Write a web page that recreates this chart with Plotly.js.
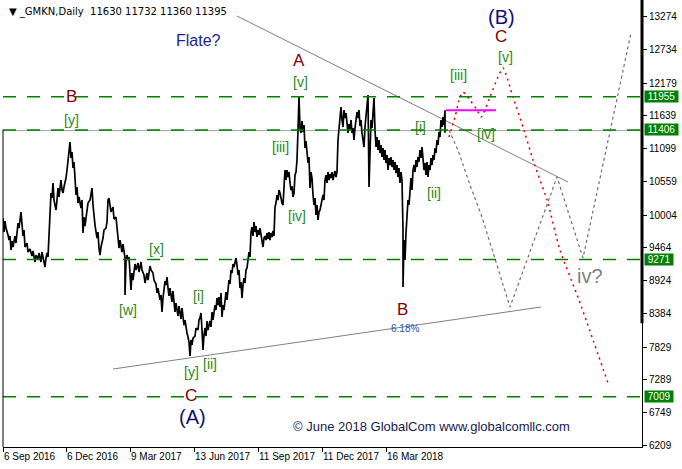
<!DOCTYPE html>
<html><head><meta charset="utf-8">
<script src="https://cdn.plot.ly/plotly-3.0.1.min.js"></script>
<style>html,body{margin:0;padding:0;background:#fff}#chart{width:682px;height:469px}</style>
</head><body><div id="chart"></div>
<script>
// ---- DATA (bar index from first visible bar, price) ----
const barIdx = [0,1,2,3,5,6,7,8,9,10,12,13,15,16,18,19,20,21,22,24,25,27,29,30,32,33,35,36,38,39,41,42,43,44,45,46,47,48,49,50,51,53,54,55,56,58,59,60,61,63,64,65,66,67,68,69,70,71,72,73,74,75,76,78,79,80,81,82,83,84,85,87,88,89,90,91,92,94,95,96,97,98,100,101,103,104,105,106,107,108,110,111,113,114,115,116,117,119,120,122,122,123,124,125,126,128,129,130,132,133,135,136,138,139,141,142,144,145,147,148,150,151,153,154,155,157,158,159,160,162,163,164,165,166,167,169,170,172,173,175,176,178,179,181,182,183,184,185,186,187,188,189,190,192,193,195,196,197,198,199,200,201,202,203,204,205,207,208,209,210,212,213,214,215,216,217,218,219,220,221,222,223,224,225,226,227,228,229,230,231,232,233,234,235,236,237,238,239,240,241,242,243,244,245,246,247,248,249,250,251,252,253,254,255,256,257,258,259,260,261,262,263,264,265,266,267,268,269,270,271,272,273,274,275,276,277,278,279,280,281,282,283,284,285,286,287,288,289,290,291,292,293,294,295,296,297,298,299,300,301,302,303,304,305,306,307,308,309,310,311,312,313,314,315,316,317,318,319,320,321,322,323,324,325,326,327,328,329,330,331,332,333,334,335,336,337,338,339,340,341,342,343,344,345,346,347,348,349,350,351,352,353,354,355,356,357,358,359,360,361,362,363,364,365,366,367,368,369,370,371,372,373,374,375,376,377,378,379,380,381,382,383,384,385,386,387,388,389,390,391,392,393,394,395,396,397,398,399,400,400,401,402,403,404,405,406,407,408,409,410,411,412,413,414,415,416,417,418,419,420,421,422,423,424,425,426,427,428,429,430,431,432,433,434,435,436,437,438,439,440,441,442,442,442];
const prices = [9955,9724,9905,9790,9675,9592,9658,9427,9576,9477,9658,9543,9872,9790,10054,9889,9658,9757,9477,9543,9394,9444,9329,9411,9230,9345,9279,9378,9230,9394,9263,9147,9296,9378,9312,9642,10087,10367,10284,10532,10251,10087,10251,10449,10301,10581,10416,10367,10466,10614,10746,10944,11075,11207,10944,11043,10779,10878,10614,10334,10466,10202,10301,10120,10251,9708,9971,9823,9955,10120,10202,10251,10367,10449,10169,9955,9839,9625,9724,9460,9345,9477,9625,9757,9790,9889,10251,10284,10153,10054,10136,9938,9971,9790,9708,9460,9592,9394,9526,9296,8686,9230,9345,9263,9312,8768,9048,8933,9197,9098,9213,9065,9230,9098,9015,8884,9048,8933,9164,9098,9048,8933,8867,8719,8801,8604,8686,8406,8637,8917,8850,8983,8801,8670,8801,8571,8752,8406,8554,8340,8505,8290,8472,8191,8274,8109,8060,7994,7911,7681,7944,7862,7977,8010,8142,8109,8274,8307,8389,8109,7780,8027,8142,8010,8257,8109,8257,8159,8406,8274,8521,8439,8637,8521,8653,8488,8719,8323,8521,8439,8554,8735,8604,8834,8933,8867,9098,9048,9197,9147,9246,9296,9180,9015,9098,8801,8900,8637,8850,8966,8884,9098,9131,9230,9394,9312,9724,9806,9658,9889,9724,9823,9642,9757,9675,9790,9691,9592,9477,9625,9658,9592,9708,9609,9724,9592,9708,9642,9741,9658,10136,10202,10334,10251,10416,10367,10251,10202,10169,10499,10746,10581,10746,10630,10713,10532,10416,10482,10301,10367,10663,10713,10911,11405,11949,11438,11356,11553,11372,11487,11108,11224,11026,10861,10960,10449,10713,10614,10334,10169,10284,10004,10169,9922,10054,10087,10169,10251,10334,10251,10581,10663,10532,10713,10581,10680,10614,10713,10581,10663,10729,10630,10713,11240,11405,11652,11784,11570,11455,11735,11603,11685,11520,11356,11504,11405,11570,11356,11438,11240,11438,11537,11702,11603,11735,11471,11570,11356,11240,11125,11455,11619,11735,11982,10466,11323,11570,11438,11735,11932,11405,11125,11290,11075,11240,11026,11158,10960,11108,10911,11075,10861,10993,10746,10944,10828,10960,10795,10911,10746,10878,10696,10828,10630,10779,10532,10713,10581,9757,8818,9592,9263,9708,9922,10251,10169,10499,10614,10416,10746,10828,10713,10911,10795,10960,10878,11075,10944,11125,10911,10746,10861,10663,10878,10630,10828,10746,10944,10828,10993,10911,11108,11026,11240,11158,11372,11290,11570,11455,11619,11487,11732,11360,11395];

const headerText = "_GMKN,Daily  11630 11732 11360 11395";
const tickBars = [0,63,127,191,255,319,383];
const tickDates = ["6 Sep 2016","6 Dec 2016","9 Mar 2017","13 Jun 2017","11 Sep 2017","11 Dec 2017","16 Mar 2018"];
const priceTicks = [13274,12734,12179,11639,11099,10559,10004,9464,8924,8384,7829,7289,6749,6209];
const levels = [11955,11406,9271,7009];
const bidPrice = 11395;
const magentaLevel = 11732, magentaFrom = 443, magentaTo = 493;

const upperTrendX = [234,565], upperTrendY = [13284,10548];
const lowerTrendX = [110,538], lowerTrendY = [7466,8488];
const redPathX = [446,452,457,460,467,474,478,487,495,500,510,520,530,544,557,576,605];
const redPathY = [11290,11619,11949,12031,11899,11735,11619,11949,12279,12427,11949,11455,10911,10251,9427,8604,7236];
const greyPathX = [446,455,467,479,507,554,580,628];
const greyPathY = [11405,11075,10499,9971,8488,10630,9296,13004];

const waveLabels = [
  {t:"Flate?", x:195, y:12888, c:"#1e1e9c", s:16},
  {t:"(B)", x:498, y:13267, c:"#10107a", s:20},
  {t:"C", x:498, y:12954, c:"#800000", s:17},
  {t:"[v]", x:502, y:12608, c:"#2a8a1a", s:14},
  {t:"[iii]", x:455, y:12312, c:"#2a8a1a", s:14},
  {t:"[iv]", x:483, y:11339, c:"#2a8a1a", s:14},
  {t:"[i]", x:417, y:11455, c:"#2a8a1a", s:14},
  {t:"[ii]", x:431, y:10367, c:"#2a8a1a", s:14},
  {t:"A", x:296, y:12559, c:"#800000", s:17},
  {t:"[v]", x:297, y:12196, c:"#2a8a1a", s:14},
  {t:"[iii]", x:277, y:11125, c:"#2a8a1a", s:14},
  {t:"[iv]", x:294, y:9988, c:"#2a8a1a", s:14},
  {t:"B", x:68, y:11965, c:"#800000", s:17},
  {t:"[y]", x:68, y:11570, c:"#2a8a1a", s:14},
  {t:"[x]", x:153, y:9444, c:"#2a8a1a", s:14},
  {t:"[w]", x:125, y:8439, c:"#2a8a1a", s:14},
  {t:"[i]", x:195, y:8670, c:"#2a8a1a", s:14},
  {t:"[ii]", x:207, y:7549, c:"#2a8a1a", s:14},
  {t:"[y]", x:188, y:7417, c:"#2a8a1a", s:14},
  {t:"C", x:188, y:7038, c:"#800000", s:17},
  {t:"(A)", x:189, y:6675, c:"#10107a", s:20},
  {t:"B", x:399, y:8439, c:"#800000", s:17},
  {t:"6.18%", x:402, y:8142, c:"#2850c0", s:10},
  {t:"iv?", x:587, y:8999, c:"#808080", s:20},
  {t:"© June 2018 GlobalCom www.globalcomllc.com", x:428, y:6527, c:"#1a1a50", s:13}
];

const FONT = "Liberation Sans, Arial, sans-serif";
const traces = [
  {x: upperTrendX, y: upperTrendY, mode:"lines", line:{color:"#808080", width:1}, hoverinfo:"skip"},
  {x: lowerTrendX, y: lowerTrendY, mode:"lines", line:{color:"#808080", width:1}, hoverinfo:"skip"},
  {x: greyPathX, y: greyPathY, mode:"lines", line:{color:"#707070", width:1.2, dash:"3px,3px"}, hoverinfo:"skip"},
  {x: redPathX, y: redPathY, mode:"lines", line:{color:"#e00000", width:1.5, dash:"2px,4px", shape:"spline", smoothing:0.6}, hoverinfo:"skip"},
  {x: [magentaFrom, magentaTo], y:[magentaLevel, magentaLevel], mode:"lines", line:{color:"#ff00ff", width:2}, hoverinfo:"skip"},
  {x: barIdx, y: prices, mode:"lines", line:{color:"#000000", width:1.7}, hoverinfo:"skip"}
];

const shapes = [];
shapes.push({type:"line", xref:"paper", x0:0, x1:1, yref:"y", y0:bidPrice, y1:bidPrice, line:{color:"#a0a0a0", width:1}, layer:"below"});
levels.forEach(v => shapes.push({type:"line", xref:"paper", x0:0, x1:1, yref:"y", y0:v, y1:v, line:{color:"#008000", width:1.5, dash:"13px,11px"}}));
shapes.push({type:"line", xref:"paper", yref:"paper", x0:1, x1:1, y0:0.277, y1:1, line:{color:"#000", width:3}});
shapes.push({type:"line", xref:"paper", yref:"paper", x0:0, x1:0, y0:0, y1:0.71, line:{color:"#000", width:1}});

const annotations = waveLabels.map(l => ({x:l.x, y:l.y, xref:"x", yref:"y", text:l.t, showarrow:false, font:{family:FONT, size:l.s, color:l.c}, xanchor:"center", yanchor:"middle"}));
annotations.push({xref:"paper", yref:"paper", x:0, y:1, xshift:4, yshift:-4, xanchor:"left", yanchor:"top", showarrow:false, text:"▼ " + headerText, font:{family:"DejaVu Sans, sans-serif", size:10, color:"#000"}});
levels.forEach(v => annotations.push({xref:"paper", yref:"y", x:1, y:v, xanchor:"left", yanchor:"middle", xshift:2, showarrow:false, text:"&nbsp;" + String(v) + "&nbsp;", bgcolor:"#008000", borderpad:0, font:{family:FONT, size:10, color:"#ffffff"}}));

const layout = {
  width:682, height:469,
  margin:{l:3, r:40, t:0, b:22, pad:0},
  paper_bgcolor:"#ffffff", plot_bgcolor:"#ffffff",
  showlegend:false,
  font:{family:FONT, size:10, color:"#000"},
  xaxis:{range:[0,639], showgrid:false, zeroline:false, showline:true, linecolor:"#000", linewidth:1,
    tickmode:"array", tickvals:tickBars, ticktext:tickDates, ticks:"outside", ticklen:4, tickcolor:"#000",
    tickangle:0, ticklabelposition:"outside right", tickfont:{family:FONT, size:10, color:"#000"}},
  yaxis:{range:[6181,13548], side:"right", showgrid:false, zeroline:false, showline:true, linecolor:"#000", linewidth:1,
    tickmode:"array", tickvals:priceTicks, ticktext:priceTicks.map(String), ticks:"outside", ticklen:4, tickcolor:"#000",
    tickfont:{family:FONT, size:10, color:"#000"}},
  shapes:shapes, annotations:annotations
};
Plotly.newPlot("chart", traces, layout, {staticPlot:true, displayModeBar:false});
</script></body></html>
